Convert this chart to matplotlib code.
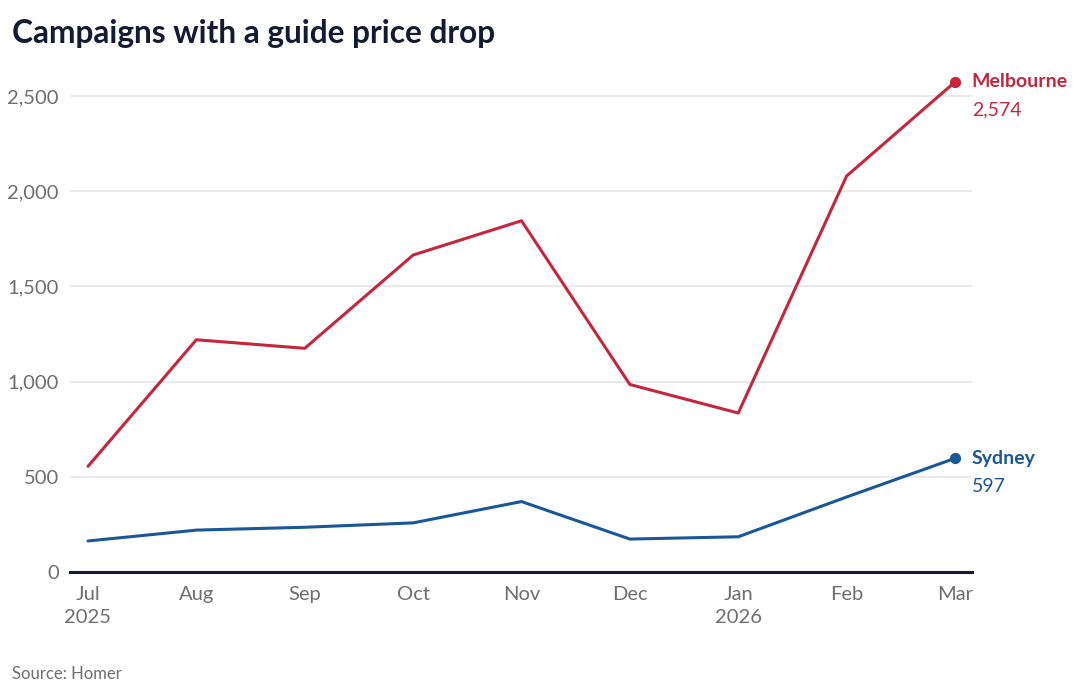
import matplotlib.pyplot as plt
import numpy as np

months = ['Jul\n2025', 'Aug', 'Sep', 'Oct', 'Nov', 'Dec', 'Jan\n2026', 'Feb', 'Mar']
melbourne = [555, 1220, 1175, 1665, 1845, 985, 835, 2080, 2574]
sydney = [163, 220, 235, 258, 370, 173, 185, 394, 597]
y_ticks = [0, 500, 1000, 1500, 2000, 2500]

MEL_COLOR = '#c5263c'
SYD_COLOR = '#1b5797'
GREY = '#6e6e6e'
NAVY = '#131a33'

plt.rcParams['font.family'] = ['Lato', 'DejaVu Sans']

fig = plt.figure(figsize=(10.8, 6.99), dpi=100)
ax = fig.add_axes([70 / 1080, 127 / 699, 902 / 1080, 514 / 699])

x = np.arange(len(months))
ax.plot(x, melbourne, color=MEL_COLOR, linewidth=2.2, solid_capstyle='round', zorder=3)
ax.plot(x, sydney, color=SYD_COLOR, linewidth=2.2, solid_capstyle='round', zorder=3)
ax.scatter([x[-1]], [melbourne[-1]], s=50, color=MEL_COLOR, zorder=4)
ax.scatter([x[-1]], [sydney[-1]], s=50, color=SYD_COLOR, zorder=4)

# end labels
ax.annotate('Melbourne', (x[-1], melbourne[-1]), xytext=(12, 0), textcoords='offset points',
            ha='left', va='center', fontsize=14, fontweight='bold', color=MEL_COLOR,
            annotation_clip=False)
ax.annotate(f'{melbourne[-1]:,}', (x[-1], melbourne[-1]), xytext=(12, -20), textcoords='offset points',
            ha='left', va='center', fontsize=14, color=MEL_COLOR, annotation_clip=False)
ax.annotate('Sydney', (x[-1], sydney[-1]), xytext=(12, 0), textcoords='offset points',
            ha='left', va='center', fontsize=14, fontweight='bold', color=SYD_COLOR,
            annotation_clip=False)
ax.annotate(f'{sydney[-1]:,}', (x[-1], sydney[-1]), xytext=(12, -20), textcoords='offset points',
            ha='left', va='center', fontsize=14, color=SYD_COLOR, annotation_clip=False)

ax.set_xlim(-0.166, 8.157)
ax.set_ylim(0, 2700)
ax.set_yticks(y_ticks)
ax.set_yticklabels([f'{v:,}' for v in y_ticks])
ax.set_xticks(x)
ax.set_xticklabels(months, linespacing=1.45)

ax.grid(axis='y', color='#e6e6e6', linewidth=1.2)
ax.set_axisbelow(True)
for side in ['top', 'right', 'left']:
    ax.spines[side].set_visible(False)
ax.spines['bottom'].set_color(NAVY)
ax.spines['bottom'].set_linewidth(2.2)

ax.tick_params(axis='y', length=0, pad=8, labelsize=14.5, labelcolor=GREY)
ax.tick_params(axis='x', length=0, pad=10, labelsize=14.5, labelcolor=GREY)

fig.text(12 / 1080, 1 - 34 / 699, 'Campaigns with a guide price drop', fontsize=22.8,
         fontweight='bold', color=NAVY, ha='left', va='center')
fig.text(12 / 1080, 1 - 674 / 699, 'Source: Homer', fontsize=12, color=GREY,
         ha='left', va='center')

fig.savefig('out.png', dpi=100, facecolor='white')
